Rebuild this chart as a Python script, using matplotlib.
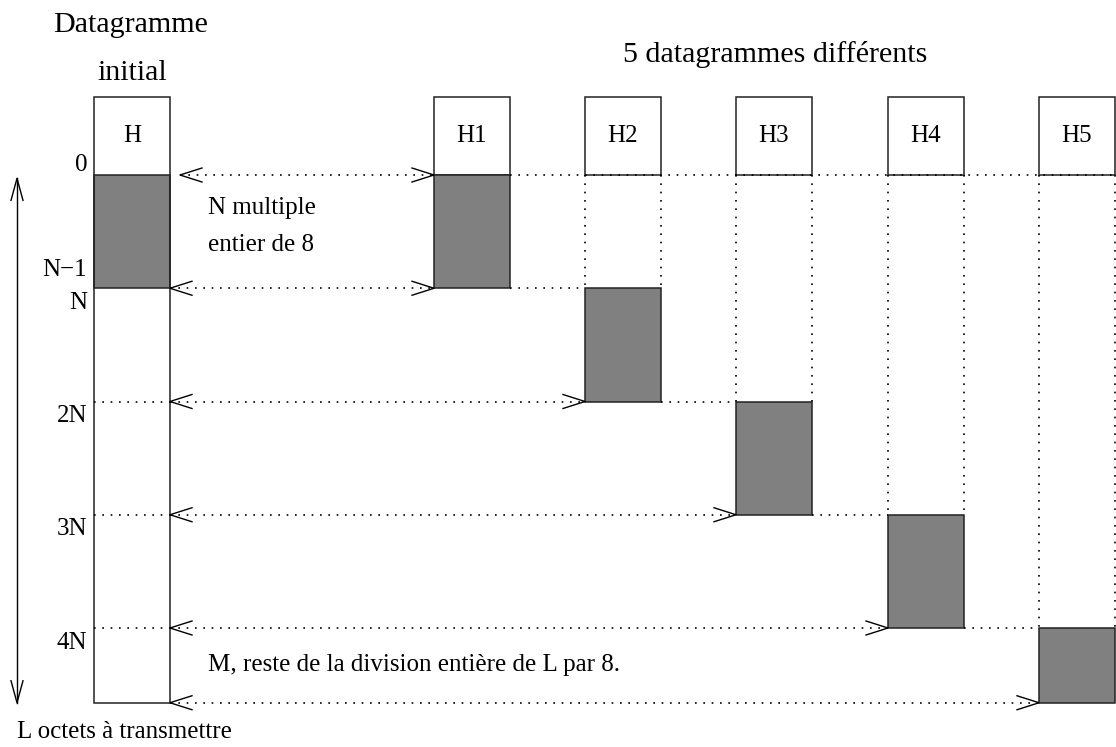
import matplotlib.pyplot as plt
from matplotlib.patches import Rectangle

plt.rcParams['font.family'] = ['Liberation Serif', 'DejaVu Serif']

# data: fragment boundaries in units of N (L = 4.66 N)
frag_start = [0, 1, 2, 3, 4]
frag_end = [1, 2, 3, 4, 4.66]
frag_names = ['H1', 'H2', 'H3', 'H4', 'H5']
offset_labels = ['0', 'N\u22121', 'N', '2N', '3N', '4N']
offset_values = [0, 1, 1, 2, 3, 4]

# layout (x in pixels, y in units of N)
px_per_N = 113.25
head_h = 78 / px_per_N
main_x = 94
col_x = [434, 585, 736, 888, 1039]
col_w = 76
L = frag_end[-1]

fig = plt.figure(figsize=(11.16, 7.47), dpi=100)
ax = fig.add_axes([0, 0, 1, 1])
ax.set_xlim(0, 1116)
ax.set_ylim((747 - 175) / px_per_N, -175 / px_per_N)
ax.axis('off')

lw = 1.1
gray = '#808080'
edge = '#222222'
dot = dict(color='black', lw=1.2, linestyle=(0, (1, 4)))


def head(x, y, d):
    # open V arrow head, tip at (x, y), pointing in direction d (+1 right, -1 left)
    hl = 22
    hw = 7 / px_per_N
    ax.plot([x - d * hl, x, x - d * hl], [y - hw, y, y + hw], color='black', lw=1.0)


def vhead(x, y, d):
    hl = 22 / px_per_N
    hw = 6
    ax.plot([x - hw, x, x + hw], [y - d * hl, y, y - d * hl], color='black', lw=1.0)


# initial datagram
ax.add_patch(Rectangle((main_x, frag_start[0]), col_w, frag_end[0] - frag_start[0],
                       facecolor=gray, edgecolor=edge, lw=lw))
ax.add_patch(Rectangle((main_x, -head_h), col_w, L + head_h, fill=False,
                       edgecolor=edge, lw=lw))
ax.text(main_x + col_w / 2, -head_h / 2, 'H', ha='center', va='center', fontsize=18)

# the 5 fragments
for i, name in enumerate(frag_names):
    x = col_x[i]
    ax.add_patch(Rectangle((x, -head_h), col_w, head_h, fill=False, edgecolor=edge, lw=lw))
    ax.text(x + col_w / 2, -head_h / 2, name, ha='center', va='center', fontsize=18)
    ax.add_patch(Rectangle((x, frag_start[i]), col_w, frag_end[i] - frag_start[i],
                           facecolor=gray, edgecolor=edge, lw=lw))
    if frag_start[i] > 0:
        ax.plot([x, x], [0, frag_start[i]], **dot)
        ax.plot([x + col_w, x + col_w], [0, frag_start[i]], **dot)

# boundaries with double arrows
bounds = [0] + frag_end
for j, b in enumerate(bounds):
    tgt = col_x[max(0, j - 1)]
    x0 = main_x + col_w + (10 if j == 0 else 0)
    ax.plot([x0, tgt], [b, b], **dot)
    head(x0, b, -1)
    head(tgt, b, 1)
    if j == 0:
        ax.plot([col_x[0] + col_w, col_x[-1] + col_w], [b, b], **dot)
    elif j < len(frag_names):
        ax.plot([col_x[j - 1] + col_w, col_x[j]], [b, b], **dot)
        if j >= 2:
            ax.plot([main_x, main_x + col_w], [b, b], **dot)

# offset labels
for lab, v in zip(offset_labels, offset_values):
    if lab == '0':
        yy = v - 0.09
    elif lab == 'N\u22121':
        yy = v - 0.16
    else:
        yy = v + 0.13
    ax.text(87, yy, lab, ha='right', va='center', fontsize=18)

# total length arrow
ax.plot([17, 17], [0.03, L], color='black', lw=1.0)
vhead(17, 0.03, -1)
vhead(17, L, 1)

ax.text(131, -1.325, 'Datagramme', ha='center', va='center', fontsize=21.6)
ax.text(132, -0.90, 'initial', ha='center', va='center', fontsize=21.6)
ax.text(775, -1.06, '5 datagrammes différents', ha='center', va='center', fontsize=21.6)
ax.text(208, 0.29, 'N multiple', ha='left', va='center', fontsize=18)
ax.text(208, 0.62, 'entier de 8', ha='left', va='center', fontsize=18)
ax.text(208, 4.33, 'M, reste de la division entière de L par 8.', ha='left', va='center', fontsize=18)
ax.text(17, 4.92, 'L octets à transmettre', ha='left', va='center', fontsize=18)

fig.savefig('out.png', dpi=100)
